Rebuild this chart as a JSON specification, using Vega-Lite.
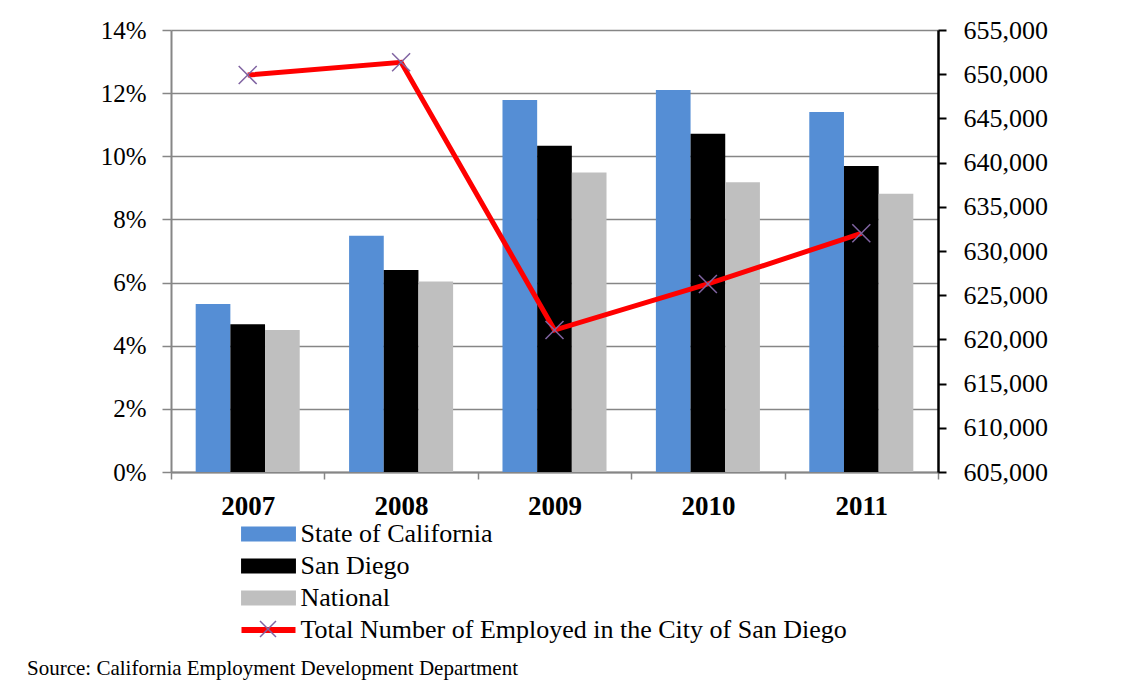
{
  "$schema": "https://vega.github.io/schema/vega-lite/v6.json",
  "width": 767,
  "height": 442,
  "autosize": {"type": "none"},
  "padding": {"left": 171, "top": 30, "right": 194, "bottom": 209},
  "background": "white",
  "config": {
    "font": "Liberation Serif",
    "view": {"stroke": null},
    "axis": {"labelFont": "Liberation Serif", "labelColor": "black"},
    "legend": {"labelFont": "Liberation Serif", "labelColor": "black"}
  },
  "datasets": {
    "rates": [
      {"year": "2007", "series": "State of California", "rate": 0.0532},
      {"year": "2007", "series": "San Diego", "rate": 0.0468},
      {"year": "2007", "series": "National", "rate": 0.0450},
      {"year": "2008", "series": "State of California", "rate": 0.0748},
      {"year": "2008", "series": "San Diego", "rate": 0.0640},
      {"year": "2008", "series": "National", "rate": 0.0603},
      {"year": "2009", "series": "State of California", "rate": 0.1178},
      {"year": "2009", "series": "San Diego", "rate": 0.1033},
      {"year": "2009", "series": "National", "rate": 0.0949},
      {"year": "2010", "series": "State of California", "rate": 0.1210},
      {"year": "2010", "series": "San Diego", "rate": 0.1071},
      {"year": "2010", "series": "National", "rate": 0.0918},
      {"year": "2011", "series": "State of California", "rate": 0.1140},
      {"year": "2011", "series": "San Diego", "rate": 0.0969},
      {"year": "2011", "series": "National", "rate": 0.0881}
    ],
    "employed": [
      {"year": "2007", "employed": 649900},
      {"year": "2008", "employed": 651350},
      {"year": "2009", "employed": 621060},
      {"year": "2010", "employed": 626270},
      {"year": "2011", "employed": 632000}
    ]
  },
  "title": {
    "text": "Source: California Employment Development Department",
    "orient": "bottom",
    "anchor": "start",
    "frame": "group",
    "dx": -144,
    "offset": 15,
    "fontSize": 21,
    "fontWeight": "normal",
    "font": "Liberation Serif",
    "color": "black"
  },
  "layer": [
    {
      "data": {"name": "rates"},
      "mark": {"type": "bar"},
      "encoding": {
        "x": {
          "field": "year",
          "type": "nominal",
          "scale": {"paddingInner": 0, "paddingOuter": 0},
          "axis": {
            "title": null,
            "tickBand": "extent",
            "labelAngle": 0,
            "labelFontSize": 27,
            "labelFontWeight": "bold",
            "labelPadding": 14,
            "domainColor": "#868686",
            "domainWidth": 2,
            "tickColor": "#868686",
            "tickWidth": 1.5,
            "tickSize": 7,
            "grid": false
          }
        },
        "xOffset": {
          "field": "series",
          "type": "nominal",
          "sort": ["State of California", "San Diego", "National"],
          "scale": {"paddingInner": 0, "paddingOuter": 0.712}
        },
        "y": {
          "field": "rate",
          "type": "quantitative",
          "scale": {"domain": [0, 0.14], "nice": false},
          "axis": {
            "title": null,
            "values": [0, 0.02, 0.04, 0.06, 0.08, 0.10, 0.12, 0.14],
            "format": ".0%",
            "labelFontSize": 25,
            "labelPadding": 16,
            "domainColor": "#868686",
            "domainWidth": 2,
            "tickColor": "#868686",
            "tickWidth": 1.5,
            "tickSize": 9,
            "gridColor": "#868686",
            "gridWidth": 1.5
          }
        },
        "color": {
          "field": "series",
          "type": "nominal",
          "scale": {
            "domain": ["State of California", "San Diego", "National", "Total Number of Employed in the City of San Diego"],
            "range": ["#558ed5", "#000000", "#bfbfbf", "#ff0000"]
          },
          "legend": {
            "orient": "none",
            "legendX": 70,
            "legendY": 491,
            "title": null,
            "direction": "vertical",
            "columns": 1,
            "labelFontSize": 26,
            "labelOffset": 19,
            "labelLimit": 900,
            "rowPadding": 6,
            "padding": 0,
            "symbolSize": 225,
            "symbolOffset": 14.5,
            "symbolStrokeWidth": 0,
            "encode": {
              "symbols": {
                "update": {
                  "shape": {"signal": "datum.value === 'Total Number of Employed in the City of San Diego' ? 'M-3.6,-0.4H3.6V0.4H-3.6Z' : 'M-3.66,-1H3.66V1H-3.66Z'"},
                  "fill": {"scale": "color", "field": "value"},
                  "stroke": {"value": "transparent"},
                  "strokeWidth": {"value": 0},
                  "opacity": {"value": 1}
                }
              }
            }
          }
        }
      }
    },
    {
      "data": {"name": "employed"},
      "mark": {"type": "line", "strokeWidth": 5},
      "encoding": {
        "x": {"field": "year", "type": "nominal"},
        "y": {
          "field": "employed",
          "type": "quantitative",
          "scale": {"domain": [605000, 655000], "nice": false},
          "axis": {
            "orient": "right",
            "title": null,
            "values": [605000, 610000, 615000, 620000, 625000, 630000, 635000, 640000, 645000, 650000, 655000],
            "format": ",.0f",
            "labelFontSize": 26,
            "labelPadding": 17,
            "domainColor": "black",
            "domainWidth": 2.5,
            "tickColor": "black",
            "tickWidth": 2,
            "tickSize": 8,
            "grid": false
          }
        },
        "color": {"datum": "Total Number of Employed in the City of San Diego"}
      }
    },
    {
      "data": {"name": "employed"},
      "mark": {"type": "point", "size": 324, "stroke": "#8064a2", "strokeWidth": 1.5, "filled": false, "opacity": 1},
      "encoding": {
        "x": {"field": "year", "type": "nominal"},
        "y": {
          "field": "employed",
          "type": "quantitative",
          "scale": {"domain": [605000, 655000], "nice": false},
          "axis": null
        },
        "shape": {
          "datum": "marker",
          "scale": {"range": ["M-1,-1L1,1M-1,1L1,-1"]},
          "legend": {
            "orient": "none",
            "legendX": 88,
            "legendY": 590,
            "title": null,
            "labelExpr": "''",
            "labelFontSize": 10,
            "symbolSize": 256,
            "symbolStrokeColor": "#8064a2",
            "symbolStrokeWidth": 1.5,
            "symbolFillColor": "transparent",
            "padding": 0
          }
        }
      }
    }
  ],
  "resolve": {"scale": {"y": "independent"}}
}
